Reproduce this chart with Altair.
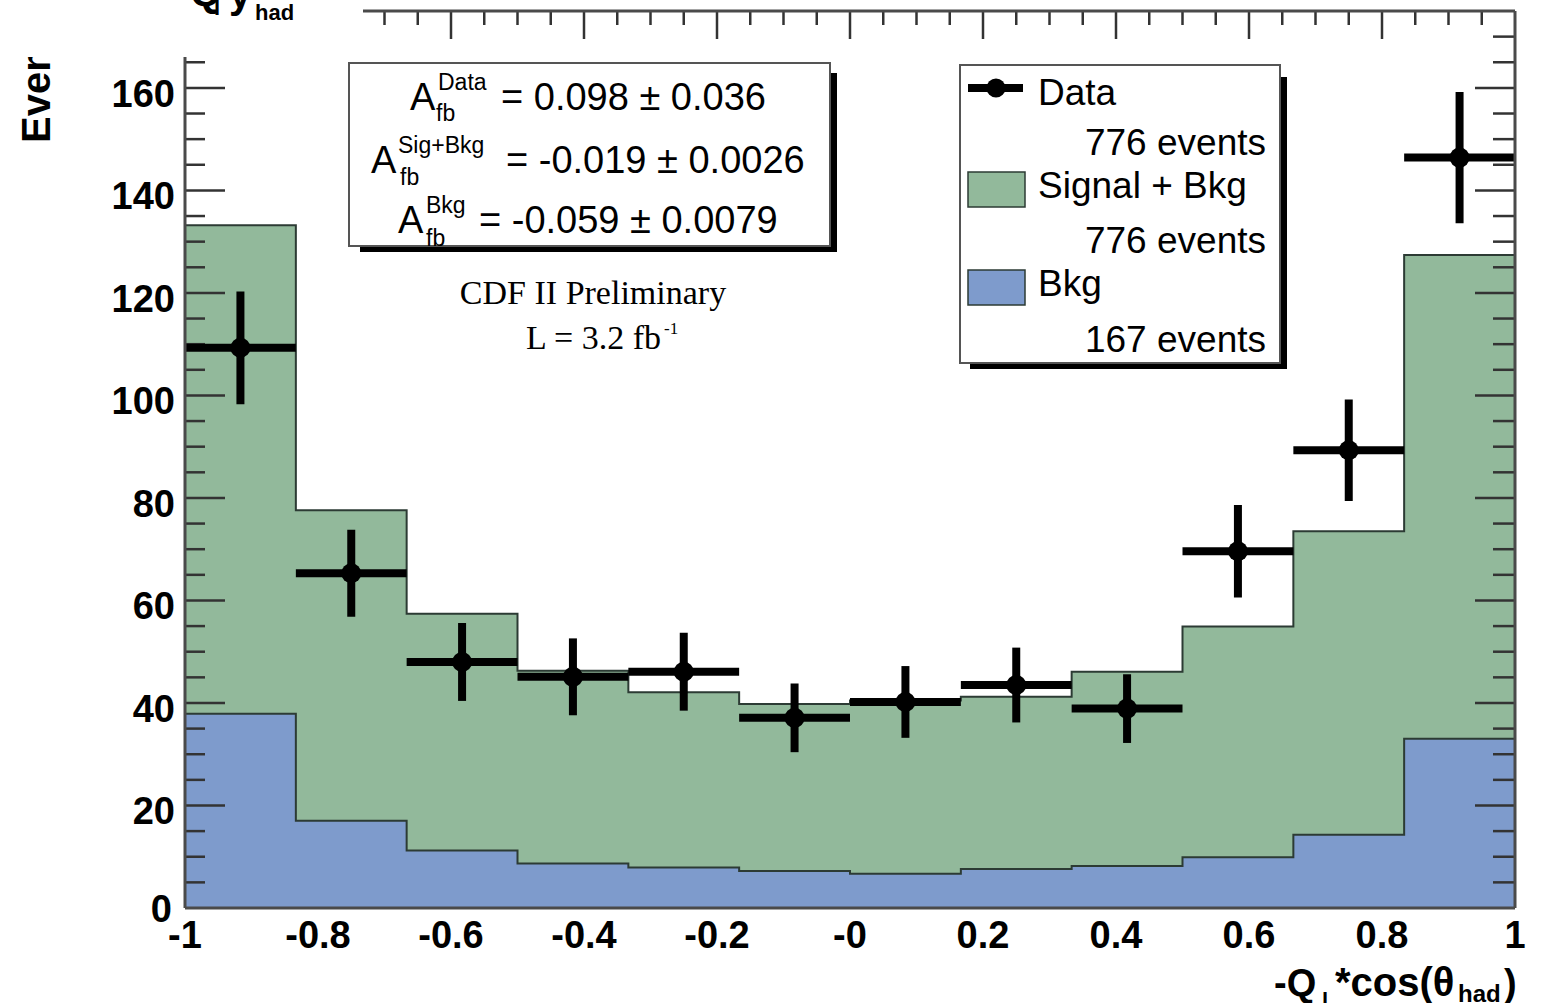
import altair as alt
import pandas as pd

# ---------------- data ----------------
edges = [-1.0, -0.8333, -0.6667, -0.5, -0.3333, -0.1667, 0.0,
         0.1667, 0.3333, 0.5, 0.6667, 0.8333, 1.0]
sig_bkg = [133.2, 77.6, 57.4, 46.3, 42.1, 39.8, 40.5, 41.2, 46.1, 54.9, 73.5, 127.4]
bkg = [37.9, 17.0, 11.2, 8.7, 7.9, 7.2, 6.7, 7.6, 8.2, 9.9, 14.3, 33.0]
data_vals = [109.3, 65.3, 48.0, 45.1, 46.1, 37.1, 40.2, 43.5, 38.9, 69.6, 89.3, 146.4]
data_errs = [11.0, 8.5, 7.6, 7.5, 7.6, 6.7, 7.0, 7.3, 6.7, 9.0, 9.9, 12.8]

x_tick_values = [-1, -0.8, -0.6, -0.4, -0.2, 0, 0.2, 0.4, 0.6, 0.8, 1]
x_tick_text = ["-1", "-0.8", "-0.6", "-0.4", "-0.2", "-0", "0.2", "0.4", "0.6", "0.8", "1"]
y_tick_values = [20, 40, 60, 80, 100, 120, 140, 160]
y_tick_text = ["20", "40", "60", "80", "100", "120", "140", "160"]
y_zero_value = [0]
y_zero_text = ["0"]

y_major_ticks = [20, 40, 60, 80, 100, 120, 140, 160]
y_minor_left = [v for v in range(5, 170, 5) if v % 20]
y_minor_right = [v for v in range(5, 175, 5) if v % 20]
top_major_ticks = [-0.6, -0.4, -0.2, 0.0, 0.2, 0.4, 0.6, 0.8]
top_minor_ticks = [round(-0.7 + 0.05 * k, 2) for k in range(0, 34)]
top_minor_ticks = [v for v in top_minor_ticks if abs(round(v * 5) - v * 5) > 1e-6]

# ---------------- layout ----------------
OX, OY = 185, 11
W, H = 1330, 897
GREEN = "#92b99b"
BLUE = "#7e9bcc"
LINE = "#2c3b34"
FRAME = "#4a4a4a"
SANS = "Liberation Sans"
SERIF = "Liberation Serif"

xs = alt.Scale(domain=[-1, 1], nice=False, zero=False)
ys = alt.Scale(domain=[0, 175], nice=False, zero=False)


def px(v):
    return alt.value(v - OX)


def py(v):
    return alt.value(v - OY)


one = pd.DataFrame({"k": [0]})


def txt(s, x, y, size, weight="normal", align="left", font=SANS, angle=0,
        color="black", baseline="alphabetic"):
    kw = dict(text=s, fontSize=size, fontWeight=weight, align=align, font=font,
              color=color, baseline=baseline)
    if angle:
        kw["angle"] = angle
    return alt.Chart(one).mark_text(**kw).encode(x=px(x), y=py(y))


def box(x1, y1, x2, y2, fill, stroke=None, sw=0):
    kw = dict(fill=fill)
    if stroke:
        kw.update(stroke=stroke, strokeWidth=sw)
    return alt.Chart(one).mark_rect(**kw).encode(x=px(x1), x2=px(x2), y=py(y1), y2=py(y2))


def hline(x1, x2, y, color=FRAME, sw=3):
    return alt.Chart(one).mark_rule(color=color, strokeWidth=sw).encode(
        x=px(x1), x2=px(x2), y=py(y))


def vline(x, y1, y2, color=FRAME, sw=3):
    return alt.Chart(one).mark_rule(color=color, strokeWidth=sw).encode(
        x=px(x), y=py(y1), y2=py(y2))


# ---------------- histogram ----------------
step = pd.DataFrame({
    "edge": edges,
    "total": sig_bkg + [sig_bkg[-1]],
    "bkg": bkg + [bkg[-1]],
})

green = alt.Chart(step).mark_area(interpolate="step-after", color=GREEN, opacity=1).encode(
    x=alt.X("edge:Q", scale=xs, axis=None),
    y=alt.Y("total:Q", scale=ys, axis=None),
)
blue = alt.Chart(step).mark_area(interpolate="step-after", color=BLUE, opacity=1).encode(
    x=alt.X("edge:Q", scale=xs, axis=None),
    y=alt.Y("bkg:Q", scale=ys, axis=None),
)
green_line = alt.Chart(step).mark_line(interpolate="step-after", color=LINE, strokeWidth=2).encode(
    x=alt.X("edge:Q", scale=xs, axis=None),
    y=alt.Y("total:Q", scale=ys, axis=None),
)
blue_line = alt.Chart(step).mark_line(interpolate="step-after", color=LINE, strokeWidth=2).encode(
    x=alt.X("edge:Q", scale=xs, axis=None),
    y=alt.Y("bkg:Q", scale=ys, axis=None),
)

# ---------------- axis labels (through the scales) ----------------
xlab_df = pd.DataFrame({"v": x_tick_values, "t": x_tick_text})
ylab_df = pd.DataFrame({"v": y_tick_values, "t": y_tick_text})
y0_df = pd.DataFrame({"v": y_zero_value, "t": y_zero_text})
xlabels = alt.Chart(xlab_df).mark_text(
    font=SANS, fontWeight="bold", fontSize=38, align="center", baseline="alphabetic",
    color="black").encode(
    x=alt.X("v:Q", scale=xs, axis=None), y=py(948), text="t:N")
ylabels = alt.Chart(ylab_df).mark_text(
    font=SANS, fontWeight="bold", fontSize=38, align="right", baseline="middle",
    color="black", dy=8).encode(
    y=alt.Y("v:Q", scale=ys, axis=None), x=px(175), text="t:N")
y0label = alt.Chart(y0_df).mark_text(
    font=SANS, fontWeight="bold", fontSize=38, align="right", baseline="middle",
    color="black", dy=3).encode(
    y=alt.Y("v:Q", scale=ys, axis=None), x=px(172), text="t:N")

# ---------------- data points ----------------
pts = pd.DataFrame({"lo": edges[:-1], "hi": edges[1:], "val": data_vals, "err": data_errs})
pts["mid"] = (pts["lo"] + pts["hi"]) / 2
pts["ylo"] = pts["val"] - pts["err"]
pts["yhi"] = pts["val"] + pts["err"]

vbars = alt.Chart(pts).mark_rule(color="black", strokeWidth=8).encode(
    x=alt.X("mid:Q", scale=xs, axis=None),
    y=alt.Y("ylo:Q", scale=ys, axis=None),
    y2="yhi:Q",
)
hbars = alt.Chart(pts).mark_rule(color="black", strokeWidth=8).encode(
    x=alt.X("lo:Q", scale=xs, axis=None),
    x2="hi:Q",
    y=alt.Y("val:Q", scale=ys, axis=None),
)
dots = alt.Chart(pts).mark_circle(color="black", opacity=1, size=400).encode(
    x=alt.X("mid:Q", scale=xs, axis=None),
    y=alt.Y("val:Q", scale=ys, axis=None),
)

# ---------------- ticks ----------------
TICK = "#333333"


def yticks(values, x1, x2):
    df = pd.DataFrame({"v": values})
    return alt.Chart(df).mark_rule(color=TICK, strokeWidth=2.5).encode(
        x=alt.value(x1), x2=alt.value(x2),
        y=alt.Y("v:Q", scale=ys, axis=None))


def xticks(values, length):
    df = pd.DataFrame({"v": values})
    return alt.Chart(df).mark_rule(color=TICK, strokeWidth=2.5).encode(
        x=alt.X("v:Q", scale=xs, axis=None),
        y=alt.value(0), y2=alt.value(length))


ticks = [
    yticks(y_major_ticks, 0, 40),
    yticks(y_minor_left, 0, 20),
    yticks(y_major_ticks, W - 40, W),
    yticks(y_minor_right, W - 22, W),
    xticks(top_major_ticks, 28),
    xticks(top_minor_ticks, 14),
]

# ---------------- frame ----------------
frame = [
    vline(185, 57, 908),
    hline(185, 1515, 908),
    vline(1515, 11, 908),
    hline(363, 1515, 11),
]

# ---------------- titles ----------------
titles = [
    txt("Events", 50, 143, 40, weight="bold", angle=270),
    box(0, 0, 363, 57, "white"),
    txt("Q", 190, 6, 40, weight="bold"),
    txt("l", 214, 15, 22, weight="bold"),
    txt("y", 229, 8, 40, weight="bold"),
    txt("had", 255, 20, 22, weight="bold"),
    txt("-Q", 1274, 996, 38, weight="bold"),
    txt("l", 1322, 1008, 22, weight="bold"),
    txt("*cos(θ", 1335, 996, 40, weight="bold"),
    txt("had", 1458, 1002, 24, weight="bold"),
    txt(")", 1504, 996, 38, weight="bold"),
]

# ---------------- asymmetry box ----------------
stats = [
    box(360, 73, 837, 252, "black"),
    box(349, 63, 830, 246, "white", stroke="#555555", sw=2),
    txt("A", 410, 110, 38),
    txt("Data", 438, 90, 23),
    txt("fb", 436, 121, 23),
    txt("= 0.098 ± 0.036", 501, 110, 38),
    txt("A", 371, 173, 38),
    txt("Sig+Bkg", 398, 153, 23),
    txt("fb", 400, 185, 23),
    txt("= -0.019 ± 0.0026", 506, 173, 38),
    txt("A", 398, 233, 38),
    txt("Bkg", 426, 213, 23),
    txt("fb", 426, 246, 23),
    txt("= -0.059 ± 0.0079", 479, 233, 38),
    box(360, 247, 837, 252, "black"),
    txt("CDF II Preliminary", 593, 304, 34, font=SERIF, align="center"),
    txt("L = 3.2 fb", 661, 349, 34, font=SERIF, align="right"),
    txt("-1", 664, 334, 17, font=SERIF),
]

# ---------------- legend ----------------
legend = [
    box(970, 77, 1287, 369, "black"),
    box(960, 65, 1280, 363, "white", stroke="#555555", sw=2),
    hline(968, 1023, 88, color="black", sw=8),
    alt.Chart(one).mark_circle(color="black", opacity=1, size=360).encode(x=px(996), y=py(88)),
    txt("Data", 1038, 105, 37),
    txt("776 events", 1266, 155, 37, align="right"),
    box(968, 172, 1025, 207, GREEN, stroke=LINE, sw=1.5),
    txt("Signal + Bkg", 1038, 198, 37),
    txt("776 events", 1266, 253, 37, align="right"),
    box(968, 270, 1025, 305, BLUE, stroke=LINE, sw=1.5),
    txt("Bkg", 1038, 296, 37),
    txt("167 events", 1266, 352, 37, align="right"),
]

chart = alt.layer(
    green, blue, green_line, blue_line,
    *ticks,
    vbars, hbars, dots,
    *frame,
    xlabels, ylabels, y0label,
    *titles,
    *stats,
    *legend,
).properties(
    width=W, height=H,
    autosize=alt.AutoSizeParams(type="none"),
    padding={"left": OX, "top": OY, "right": 1544 - OX - W, "bottom": 1003 - OY - H},
    background="white",
).configure_view(stroke=None)

chart.save("out.html", embed_options={"renderer": "svg", "actions": False})
